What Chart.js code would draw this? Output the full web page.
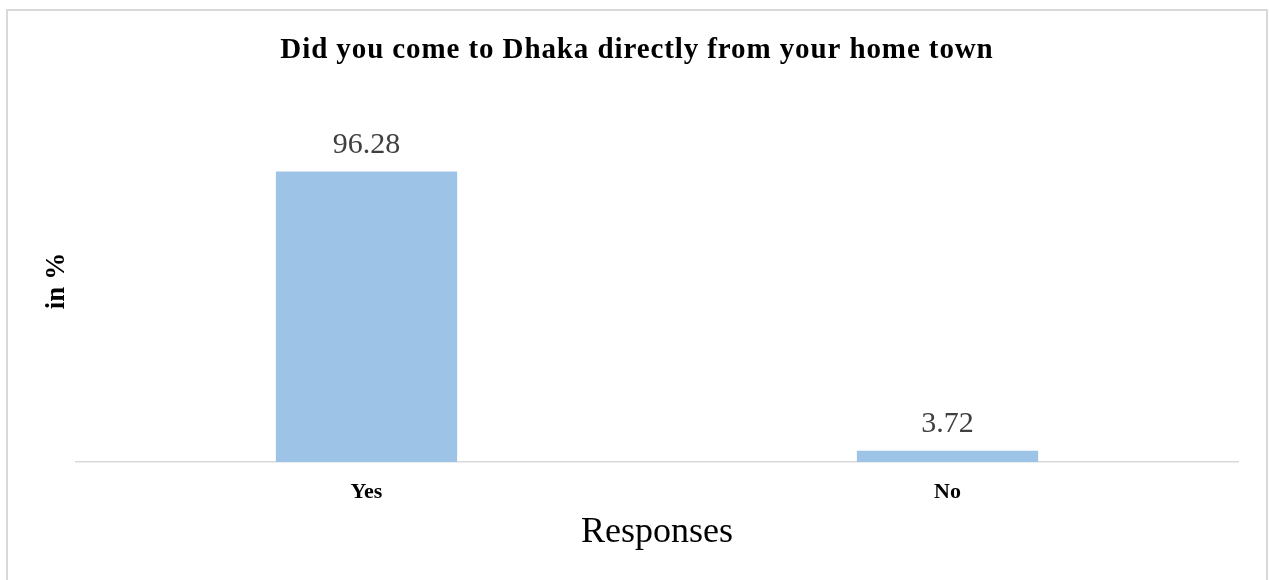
<!DOCTYPE html>
<html><head><meta charset="utf-8">
<script src="https://cdn.jsdelivr.net/npm/chart.js@4"></script>
<style>html,body{margin:0;padding:0;background:#fff;}#wrap{width:1269px;height:580px;position:relative;}</style>
</head><body><div id="wrap"><canvas id="c" width="1269" height="580"></canvas></div>
<script>
const categories = ["Yes", "No"];
const values = [96.28, 3.72];
const valueLabels = ["96.28", "3.72"];
const titleText = "Did you come to Dhaka directly from your home town";
const xTitle = "Responses";
const yTitle = "in %";

const SERIF = "'Liberation Serif', 'DejaVu Serif', serif";

const decor = {
  id: 'decor',
  beforeDraw(chart) {
    const ctx = chart.ctx;
    ctx.save();
    ctx.fillStyle = '#fff';
    ctx.fillRect(0, 0, chart.width, chart.height);
    ctx.strokeStyle = '#d9d9d9';
    ctx.lineWidth = 2;
    ctx.strokeRect(7, 10, 1260, 620);
    ctx.fillStyle = '#000';
    ctx.font = 'bold 29px ' + SERIF;
    try { ctx.letterSpacing = '0.9px'; } catch (e) {}
    ctx.textAlign = 'center';
    ctx.textBaseline = 'alphabetic';
    ctx.fillText(titleText, 637, 58);
    ctx.restore();
  },
  afterDatasetsDraw(chart) {
    const ctx = chart.ctx;
    const meta = chart.getDatasetMeta(0);
    ctx.save();
    ctx.fillStyle = '#404040';
    ctx.font = '30px ' + SERIF;
    ctx.textAlign = 'center';
    ctx.textBaseline = 'alphabetic';
    meta.data.forEach((bar, i) => {
      ctx.fillText(valueLabels[i], bar.x, bar.y - 19);
    });
    ctx.restore();
  }
};

new Chart(document.getElementById('c'), {
  type: 'bar',
  data: {
    labels: categories,
    datasets: [{
      data: values,
      backgroundColor: '#9DC3E6',
      borderWidth: 0,
      categoryPercentage: 1,
      barPercentage: 0.312
    }]
  },
  options: {
    responsive: false,
    animation: false,
    devicePixelRatio: 1,
    layout: { padding: { top: 100, right: 31, left: 0, bottom: 0 } },
    plugins: { legend: { display: false }, tooltip: { enabled: false }, title: { display: false } },
    scales: {
      x: {
        grid: { display: false, drawTicks: false },
        border: { display: true, color: '#d9d9d9', width: 1.5 },
        ticks: { color: '#000', font: { family: SERIF, size: 22, weight: 'bold' }, padding: 17 },
        title: { display: true, text: xTitle, color: '#000', font: { family: SERIF, size: 36 }, padding: { top: 0, bottom: 26 } },
        afterFit(s) { s.height = 118; }
      },
      y: {
        min: 0, max: 120,
        grid: { display: false, drawTicks: false },
        border: { display: false },
        ticks: { display: false },
        title: { display: true, text: yTitle, color: '#000', font: { family: SERIF, size: 27, weight: 'bold' }, padding: { top: 41, bottom: 0 } },
        afterFit(s) { s.width = 76; }
      }
    }
  },
  plugins: [decor]
});
</script></body></html>
